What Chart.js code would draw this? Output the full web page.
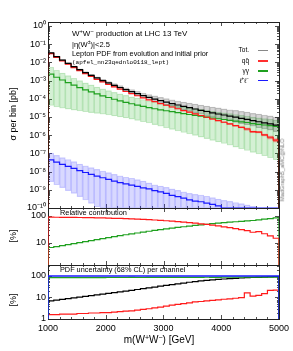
<!DOCTYPE html>
<html>
<head>
<meta charset="utf-8">
<script src="https://cdn.jsdelivr.net/npm/chart.js@4.4.1/dist/chart.umd.min.js"></script>
<style>
  body { margin: 0; background: #fff; }
  #wrap { position: relative; width: 293px; height: 351px; overflow: hidden;
          font-family: 'Liberation Sans', Arial, sans-serif; }
  #wrap canvas { position: absolute; left: 0; top: 0; }
  .t { position: absolute; white-space: nowrap; line-height: 1; color: #000; }
  .rot { transform: translate(-50%, -50%) rotate(-90deg); }
  .key { position: absolute; height: 1.3px; width: 10px; }
  sup { font-size: 70%; vertical-align: baseline; position: relative; top: -0.5em; }
</style>
</head>
<body>
<div id="wrap">
  <canvas id="cMain" width="293" height="351"></canvas>
  <canvas id="cRel" width="293" height="351"></canvas>
  <canvas id="cUnc" width="293" height="351"></canvas>

  <div class="t" style="left:72px;top:30px;font-size:8px;">W<sup>+</sup>W<sup>−</sup> production at LHC 13 TeV</div>
  <div class="t" style="left:72px;top:41px;font-size:7.5px;">|η(W<sup>±</sup>)|&lt;2.5</div>
  <div class="t" style="left:72px;top:49.5px;font-size:7.3px;">Lepton PDF from evolution and initial prior</div>
  <div class="t" style="left:72px;top:60px;font-size:6px;font-family:'Liberation Mono',monospace;">(apfel_nn23qednlo0118_lept)</div>

  <div class="t" style="right:44px;top:47px;font-size:6.5px;">Tot.</div>
  <div class="t" style="right:44px;top:57.7px;font-size:6.5px;">qq&#772;</div>
  <div class="t" style="right:44px;top:67.7px;font-size:6.5px;">γγ</div>
  <div class="t" style="right:44px;top:77.5px;font-size:6.5px;">ℓ<sup>+</sup>ℓ<sup>−</sup></div>
  <div class="key" style="left:258px;top:49.7px;background:#888;"></div>
  <div class="key" style="left:258px;top:60.4px;background:#ff3030;"></div>
  <div class="key" style="left:258px;top:70.4px;background:#1fa01f;"></div>
  <div class="key" style="left:258px;top:80.1px;background:#1a1aff;"></div>

  <div class="t rot" style="left:13px;top:113.5px;font-size:9px;">σ per bin [pb]</div>
  <div class="t rot" style="left:13px;top:236px;font-size:9px;">[%]</div>
  <div class="t rot" style="left:13px;top:300px;font-size:9px;">[%]</div>
  <div class="t" style="left:60px;top:208.8px;font-size:7.4px;">Relative contribution</div>
  <div class="t" style="left:60px;top:265.6px;font-size:7.3px;">PDF uncertainty (68% CL) per channel</div>
  <div class="t" style="left:159px;top:340px;font-size:10px;transform:translate(-50%,-50%);">m(W<sup>+</sup>W<sup>−</sup>) [GeV]</div>
  <div class="t rot" style="left:283px;top:170px;font-size:5.7px;color:#777;">MadGraph5_aMC@NLO</div>
</div>

<script>
// bins (lower edges, GeV)
const binLow = [1000, 1100, 1200, 1300, 1400, 1500, 1600, 1700, 1800, 1900,
                2000, 2100, 2200, 2300, 2400, 2500, 2600, 2700, 2800, 2900,
                3000, 3100, 3200, 3300, 3400, 3500, 3600, 3700, 3800, 3900,
                4000, 4100, 4200, 4300, 4400, 4500, 4600, 4700, 4800, 4900];
const xMax = 5000;
const xTickLabels = [1000, 2000, 3000, 4000, 5000];

// sigma per bin [pb]
const totXsec = [0.0331, 0.0209, 0.0135, 0.00891, 0.00589, 0.00398, 0.00275, 0.00195, 0.00141, 0.00100,
                 7.41e-4, 5.50e-4, 4.17e-4, 3.16e-4, 2.49e-4, 1.91e-4, 1.51e-4, 1.20e-4, 9.6e-5, 7.94e-5,
                 6.61e-5, 5.50e-5, 4.57e-5, 3.80e-5, 3.28e-5, 2.75e-5, 2.34e-5, 2.00e-5, 1.70e-5, 1.46e-5,
                 1.29e-5, 1.12e-5, 9.77e-6, 8.51e-6, 7.45e-6, 6.31e-6, 5.50e-6, 4.79e-6, 4.17e-6, 3.55e-6];
const totLo = [0.0314, 0.0198, 0.0127, 0.00830, 0.00543, 0.00364, 0.00249, 0.00175, 0.00122, 8.73e-4,
               6.43e-4, 4.68e-4, 3.48e-4, 2.59e-4, 1.98e-4, 1.51e-4, 1.17e-4, 9.12e-5, 7.24e-5, 5.75e-5,
               4.68e-5, 3.80e-5, 3.09e-5, 2.45e-5, 2.04e-5, 1.70e-5, 1.41e-5, 1.17e-5, 9.77e-6, 8.13e-6,
               6.92e-6, 6.03e-6, 5.01e-6, 4.27e-6, 3.80e-6, 3.09e-6, 2.57e-6, 2.19e-6, 1.91e-6, 1.58e-6];
const totHi = [0.0355, 0.0224, 0.0146, 0.00977, 0.00653, 0.00447, 0.00313, 0.00224, 0.00162, 0.00119,
               8.91e-4, 6.76e-4, 5.25e-4, 4.07e-4, 3.24e-4, 2.57e-4, 2.09e-4, 1.70e-4, 1.45e-4, 1.20e-4,
               1.02e-4, 8.91e-5, 7.59e-5, 6.61e-5, 5.75e-5, 5.13e-5, 4.47e-5, 3.98e-5, 3.47e-5, 3.16e-5,
               2.82e-5, 2.51e-5, 2.29e-5, 2.04e-5, 1.86e-5, 1.58e-5, 1.45e-5, 1.29e-5, 1.15e-5, 1.00e-5];

const qqXsec = [0.0300, 0.0188, 0.0121, 7.94e-3, 5.21e-3, 3.50e-3, 2.40e-3, 1.68e-3, 1.18e-3, 8.46e-4,
                6.19e-4, 4.53e-4, 3.39e-4, 2.52e-4, 1.92e-4, 1.47e-4, 1.13e-4, 8.77e-5, 6.95e-5, 5.48e-5,
                4.42e-5, 3.55e-5, 2.84e-5, 2.26e-5, 1.85e-5, 1.49e-5, 1.21e-5, 9.72e-6, 7.77e-6, 6.33e-6,
                5.15e-6, 4.14e-6, 3.34e-6, 2.68e-6, 2.19e-6, 1.58e-6, 1.46e-6, 1.05e-6, 7.71e-7, 5.33e-7];

const aaXsec = [2.25e-3, 1.53e-3, 1.08e-3, 7.75e-4, 5.60e-4, 4.14e-4, 3.11e-4, 2.40e-4, 1.85e-4, 1.46e-4,
                1.18e-4, 9.46e-5, 7.76e-5, 6.38e-5, 5.34e-5, 4.49e-5, 3.82e-5, 3.26e-5, 2.85e-5, 2.48e-5,
                2.20e-5, 1.95e-5, 1.73e-5, 1.52e-5, 1.37e-5, 1.23e-5, 1.10e-5, 9.90e-6, 8.82e-6, 8.04e-6,
                7.30e-6, 6.61e-6, 5.99e-6, 5.41e-6, 5.00e-6, 4.30e-6, 3.96e-6, 3.64e-6, 3.34e-6, 3.02e-6];
const aaLo = [4.27e-5, 3.55e-5, 3.02e-5, 2.69e-5, 2.40e-5, 2.14e-5, 1.95e-5, 1.74e-5, 1.58e-5, 1.41e-5,
              1.29e-5, 1.15e-5, 1.02e-5, 8.9e-6, 7.6e-6, 6.5e-6, 5.5e-6, 4.7e-6, 3.8e-6, 3.1e-6,
              2.5e-6, 2.1e-6, 1.7e-6, 1.41e-6, 1.17e-6, 9.8e-7, 7.9e-7, 6.5e-7, 5.2e-7, 4.3e-7,
              3.5e-7, 2.8e-7, 2.2e-7, 1.8e-7, 1.45e-7, 1.15e-7, 9.3e-8, 7.4e-8, 5.8e-8, 4.5e-8];
const aaHi = [5.4e-3, 3.7e-3, 2.6e-3, 1.86e-3, 1.34e-3, 9.9e-4, 7.5e-4, 5.8e-4, 4.4e-4, 3.5e-4,
              2.83e-4, 2.27e-4, 1.86e-4, 1.53e-4, 1.28e-4, 1.08e-4, 9.2e-5, 7.8e-5, 6.8e-5, 5.9e-5,
              5.2e-5, 4.6e-5, 4.1e-5, 3.6e-5, 3.2e-5, 2.9e-5, 2.6e-5, 2.3e-5, 2.05e-5, 1.85e-5,
              1.68e-5, 1.52e-5, 1.37e-5, 1.23e-5, 1.13e-5, 9.8e-6, 9.0e-6, 8.2e-6, 7.5e-6, 6.8e-6];

const llXsec = [4.37e-8, 3.31e-8, 2.51e-8, 1.95e-8, 1.51e-8, 1.12e-8, 8.9e-9, 7.1e-9, 5.6e-9, 4.6e-9,
                3.7e-9, 3.0e-9, 2.5e-9, 2.1e-9, 1.82e-9, 1.55e-9, 1.29e-9, 1.12e-9, 8.9e-10, 7.6e-10,
                6.3e-10, 5.0e-10, 4.2e-10, 3.5e-10, 2.8e-10, 2.4e-10, 2.2e-10, 1.86e-10, 1.58e-10, 1.32e-10,
                0, 0, 0, 0, 0, 0, 0, 0, 0, 0];
const llLo = [2.8e-9, 1.9e-9, 1.32e-9, 9.1e-10, 6.3e-10, 4.2e-10, 2.75e-10, 1.78e-10, 1.17e-10, 1e-10,
              1e-10, 1e-10, 1e-10, 1e-10, 1e-10, 1e-10, 1e-10, 1e-10, 1e-10, 1e-10,
              1e-10, 1e-10, 1e-10, 1e-10, 1e-10, 1e-10, 1e-10, 1e-10, 1e-10, 1e-10,
              1e-10, 1e-10, 1e-10, 1e-10, 1e-10, 1e-10, null, null, null, null];
const llHi = [1.03e-7, 7.8e-8, 5.9e-8, 4.6e-8, 3.5e-8, 2.6e-8, 2.1e-8, 1.67e-8, 1.32e-8, 1.08e-8,
              8.7e-9, 7.1e-9, 5.9e-9, 4.9e-9, 4.3e-9, 3.6e-9, 3.0e-9, 2.4e-9, 1.9e-9, 1.6e-9,
              1.35e-9, 1.12e-9, 9.3e-10, 7.8e-10, 6.4e-10, 5.6e-10, 5.2e-10, 4.4e-10, 3.7e-10, 3.1e-10,
              2.6e-10, 2.3e-10, 2.0e-10, 1.75e-10, 1.5e-10, 1.25e-10, null, null, null, null];

// relative contribution [%]
const relQQ = [90.5, 90.0, 89.6, 89.1, 88.5, 87.9, 87.2, 86.4, 85.6, 84.6,
               83.6, 82.4, 81.2, 79.8, 78.3, 76.7, 75.0, 73.1, 71.1, 69.0,
               66.8, 64.5, 62.1, 59.6, 57.0, 54.3, 51.5, 48.6, 45.7, 42.8,
               39.9, 37.0, 34.2, 31.5, 28.9, 25.0, 26.5, 22.0, 18.5, 15.0];
const relAA = [6.8, 7.3, 8.0, 8.7, 9.5, 10.4, 11.3, 12.3, 13.4, 14.6,
               15.9, 17.2, 18.6, 20.2, 21.8, 23.5, 25.3, 27.2, 29.2, 31.2,
               33.3, 35.5, 37.8, 40.0, 42.4, 44.7, 47.1, 49.5, 51.9, 54.3,
               56.6, 59.0, 61.3, 63.6, 65.9, 68.2, 72.0, 76.0, 80.0, 85.0];

// PDF uncertainty (68% CL) per channel [%]
const uncTot = [6.9, 7.5, 8.1, 8.8, 9.6, 10.5, 11.3, 12.2, 13.2, 14.3,
                15.4, 16.8, 18.2, 19.7, 21.3, 23.5, 25.8, 28.0, 30.5, 33.5,
                36.5, 39.5, 43.0, 47.0, 51.0, 55.0, 59.0, 62.5, 66.0, 69.5,
                72.5, 75.5, 78.0, 80.5, 83.0, 85.0, 87.0, 89.0, 91.0, 93.0];
const uncQQ = [1.6, 1.6, 1.7, 1.7, 1.7, 1.8, 1.8, 1.9, 1.9, 2.0,
               2.0, 2.1, 2.2, 2.3, 2.4, 2.6, 2.8, 3.0, 3.3, 3.6,
               4.0, 4.4, 4.8, 5.2, 5.6, 6.2, 6.5, 6.9, 7.3, 7.8,
               8.3, 8.7, 9.2, 9.8, 16.5, 11.5, 12.5, 15.0, 21.5, 22.0];
const uncAA = [83, 83, 83, 83.5, 84, 84, 84, 84, 84.5, 84,
               85, 85, 85, 85, 85.5, 85, 85, 86, 86, 86,
               86, 86.5, 86, 86, 87, 87, 87, 87.5, 87, 87,
               88, 88, 88, 88, 88.5, 88, 88, 89, 89, 89];
const uncLL = [100, 100, 100, 100, 100, 100, 100, 100, 100, 100,
               100, 100, 100, 100, 100, 100, 100, 100, 100, 100,
               100, 100, 100, 100, 100, 100, 100, 100, 100, 100,
               100, 100, 100, 100, 100, 100, 100, 100, 100, 100];

// axis ranges and labels
const mainMin = 1e-10, mainMax = 1.66;
const relMin = 1.53, relMax = 198;
const uncMin = 1, uncMax = 324;
const yMainTicks = [1, 1e-1, 1e-2, 1e-3, 1e-4, 1e-5, 1e-6, 1e-7, 1e-8, 1e-9, 1e-10];
const yMainLabels = ['10⁰', '10⁻¹', '10⁻²', '10⁻³', '10⁻⁴', '10⁻⁵', '10⁻⁶', '10⁻⁷', '10⁻⁸', '10⁻⁹', '10⁻¹⁰'];
const yPctTicks = [100, 10, 1];
const yPctLabels = ['100', '10', '1'];

const RED = '#ff1a1a', GREEN = '#1fa01f', BLUE = '#1a1aff', BLACK = '#000000';

Chart.defaults.font.family = "'Liberation Sans', Arial, sans-serif";
Chart.defaults.font.size = 9;
Chart.defaults.color = '#000';

function labelFrom(ticks, labels) {
    return v => {
        const i = ticks.findIndex(t => Math.abs(v / t - 1) < 1e-6);
        return i < 0 ? '' : labels[i];
    };
}

// histogram step line, closed down to the axis floor at both ends
function steps(vals, floor) {
    const pts = [{x: binLow[0], y: floor}];
    vals.forEach((v, i) => pts.push({x: binLow[i], y: Math.max(v, floor)}));
    pts.push({x: xMax, y: Math.max(vals[vals.length - 1], floor)});
    pts.push({x: xMax, y: floor});
    return pts;
}
function lineSet(vals, floor, color, w) {
    return {type: 'line', data: steps(vals, floor), borderColor: color, borderWidth: w || 1.2,
            pointRadius: 0, stepped: true, fill: false};
}
function bandSet(lo, hi, fillCol, edgeCol) {
    return {type: 'bar', data: binLow.map((b, i) => ({x: b + 50, y: (lo[i] == null || hi[i] == null) ? null : [lo[i], hi[i]]})),
            backgroundColor: fillCol, borderColor: edgeCol, borderWidth: 0.5, borderSkipped: false,
            barPercentage: 1, categoryPercentage: 1, grouped: false, clip: 0};
}

// frame and inward tick marks
const frameTicks = {
    id: 'frameTicks',
    beforeDatasetsDraw(chart) {
        const {ctx, chartArea: a} = chart;
        const x = chart.scales.x, y = chart.scales.y;
        ctx.save();
        ctx.strokeStyle = '#222';
        ctx.lineWidth = 0.8;
        ctx.beginPath();
        for (const t of x.ticks) {
            if (t.value <= x.min || t.value >= x.max) continue;
            const px = Math.round(x.getPixelForValue(t.value)) + 0.5;
            const len = t.value % 1000 === 0 ? 4 : 2;
            ctx.moveTo(px, a.bottom); ctx.lineTo(px, a.bottom - len);
            ctx.moveTo(px, a.top); ctx.lineTo(px, a.top + len);
        }
        for (const t of y.ticks) {
            const v = t.value;
            if (v <= y.min * 1.0001 || v >= y.max * 0.9999) continue;
            const e = Math.floor(Math.log10(v) + 1e-9);
            const sig = v / Math.pow(10, e);
            if (Math.abs(sig - Math.round(sig)) > 1e-6) continue;
            const py = Math.round(y.getPixelForValue(v)) + 0.5;
            const len = Math.round(sig) === 1 ? 4 : 2;
            ctx.moveTo(a.left, py); ctx.lineTo(a.left + len, py);
            ctx.moveTo(a.right, py); ctx.lineTo(a.right - len, py);
        }
        ctx.stroke();
        ctx.lineWidth = 1;
        ctx.strokeRect(Math.round(a.left) + 0.5, Math.round(a.top) + 0.5,
                       Math.round(a.right - a.left), Math.round(a.bottom - a.top));
        ctx.restore();
    }
};

function makePanel(id, padTop, padBottom, yOpts, datasets, showX) {
    return new Chart(document.getElementById(id), {
        type: 'line',
        data: {datasets: datasets},
        options: {
            responsive: false,
            animation: false,
            events: [],
            layout: {padding: {left: 0, right: 14, top: padTop, bottom: padBottom}},
            plugins: {legend: {display: false}, tooltip: {enabled: false}},
            scales: {
                x: {
                    type: 'linear', min: binLow[0], max: xMax, offset: false,
                    display: showX,
                    grid: {display: false, drawTicks: false},
                    border: {display: false},
                    ticks: {stepSize: 200, autoSkip: false, maxRotation: 0, padding: 4,
                            callback: v => xTickLabels.includes(v) ? String(v) : ''},
                    afterFit: showX ? (s => { s.height = 32; }) : undefined
                },
                y: Object.assign({
                    type: 'logarithmic',
                    grid: {display: false, drawTicks: false},
                    border: {display: false},
                    afterFit: s => { s.width = 48; }
                }, yOpts)
            }
        },
        plugins: [frameTicks]
    });
}

// main panel: cross sections
makePanel('cMain', 22, 143, {
    min: mainMin, max: mainMax,
    ticks: {autoSkip: false, padding: 2, callback: labelFrom(yMainTicks, yMainLabels)}
}, [
    lineSet(totXsec, mainMin, BLACK),
    lineSet(qqXsec, mainMin, RED),
    lineSet(aaXsec, mainMin, GREEN),
    lineSet(llXsec, mainMin, BLUE),
    bandSet(totLo, totHi, 'rgba(0,0,0,0.16)', 'rgba(0,0,0,0.18)'),
    bandSet(qqXsec.map((v, i) => v * (1 - uncQQ[i] / 100)), qqXsec.map((v, i) => v * (1 + uncQQ[i] / 100)),
            'rgba(255,0,0,0.28)', 'rgba(255,0,0,0.28)'),
    bandSet(aaLo, aaHi, 'rgba(40,180,40,0.2)', 'rgba(40,170,40,0.2)'),
    bandSet(llLo, llHi, 'rgba(60,60,255,0.2)', 'rgba(60,60,255,0.2)')
], false);

// relative contribution
makePanel('cRel', 208, 86, {
    min: relMin, max: relMax,
    ticks: {autoSkip: false, padding: 2, callback: labelFrom(yPctTicks, yPctLabels)}
}, [
    lineSet(relQQ, relMin, RED),
    lineSet(relAA, relMin, GREEN)
], false);

// PDF uncertainty per channel
makePanel('cUnc', 265, 0, {
    min: uncMin, max: uncMax,
    ticks: {autoSkip: false, padding: 2, callback: labelFrom(yPctTicks, yPctLabels)}
}, [
    lineSet(uncLL, uncMin, BLUE, 1.4),
    lineSet(uncAA, uncMin, GREEN),
    lineSet(uncTot, uncMin, BLACK),
    lineSet(uncQQ, uncMin, RED)
], true);
</script>
</body>
</html>
